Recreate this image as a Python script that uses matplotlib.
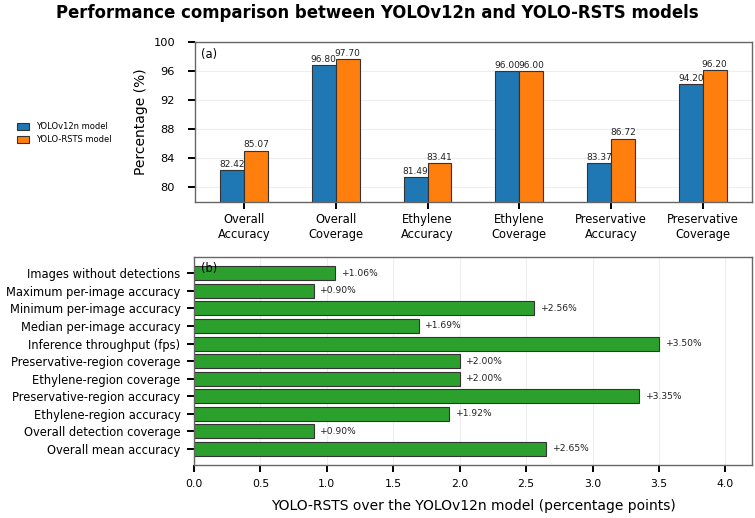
import numpy as np
import matplotlib.pyplot as plt

# panel (a) data
metrics = ['Overall\nAccuracy', 'Overall\nCoverage', 'Ethylene\nAccuracy',
           'Ethylene\nCoverage', 'Preservative\nAccuracy', 'Preservative\nCoverage']
yolov12n = [82.42, 96.80, 81.49, 96.00, 83.37, 94.20]
yolo_rsts = [85.07, 97.70, 83.41, 96.00, 86.72, 96.20]

# panel (b) data
gain_labels = ['Overall mean accuracy', 'Overall detection coverage',
               'Ethylene-region accuracy', 'Preservative-region accuracy',
               'Ethylene-region coverage', 'Preservative-region coverage',
               'Inference throughput (fps)', 'Median per-image accuracy',
               'Minimum per-image accuracy', 'Maximum per-image accuracy',
               'Images without detections']
gains = [2.65, 0.90, 1.92, 3.35, 2.00, 2.00, 3.50, 1.69, 2.56, 0.90, 1.06]

spine_col = '#666666'


def style_ax(ax, grid_axis):
    for s in ['top', 'left', 'bottom', 'right']:
        ax.spines[s].set_color(spine_col)
        ax.spines[s].set_linewidth(1.0)
    ax.tick_params(axis='both', length=5.2, width=1.4, color='black', pad=4.5)
    ax.grid(True, axis=grid_axis, color='#eeeeee', linewidth=0.8)
    ax.set_axisbelow(True)


fig = plt.figure(figsize=(7.55, 5.18), dpi=100)
ax1 = fig.add_axes([0.258, 0.610, 0.738, 0.309])
ax2 = fig.add_axes([0.257, 0.102, 0.739, 0.402])

# (a) grouped bars
x = np.arange(len(metrics))
w = 0.26
b1 = ax1.bar(x - w / 2, yolov12n, w, color='#1f77b4', edgecolor='#333333',
             linewidth=0.8, label='YOLOv12n model')
b2 = ax1.bar(x + w / 2, yolo_rsts, w, color='#ff7f0e', edgecolor='#333333',
             linewidth=0.8, label='YOLO-RSTS model')
for bars in (b1, b2):
    for r in bars:
        ax1.text(r.get_x() + r.get_width() / 2, r.get_height() + 0.15,
                 '%.2f' % r.get_height(), ha='center', va='bottom', fontsize=6.5,
                 color='#222222')
ax1.set_ylim(78, 100)
ax1.set_yticks([80, 84, 88, 92, 96, 100])
ax1.set_xticks(x)
ax1.set_xticklabels(metrics, fontsize=8.3)
style_ax(ax1, 'y')
ax1.tick_params(axis='y', labelsize=8.2, pad=9)
ax1.tick_params(axis='x', pad=3)
ax1.set_ylabel('Percentage (%)', fontsize=10, labelpad=4)
ax1.text(0.012, 0.96, '(a)', transform=ax1.transAxes, va='top', ha='left', fontsize=8.3)

fig.legend(handles=[b1, b2], loc='center left', bbox_to_anchor=(0.012, 0.743),
           frameon=False, fontsize=6, handlelength=1.5, handleheight=0.9)

# (b) horizontal bars
y = np.arange(len(gain_labels))
hb = ax2.barh(y, gains, 0.8, color='#2ca02c', edgecolor='#333333', linewidth=0.8)
for r in hb:
    v = r.get_width()
    ax2.text(v + 0.05, r.get_y() + r.get_height() / 2, '+%.2f%%' % v,
             ha='left', va='center', fontsize=6.6, color='#222222')
ax2.set_xlim(0, 4.2)
ax2.set_xticks([0.0, 0.5, 1.0, 1.5, 2.0, 2.5, 3.0, 3.5, 4.0])
ax2.set_yticks(y)
ax2.set_yticklabels(gain_labels, fontsize=8.3)
style_ax(ax2, 'x')
ax2.tick_params(axis='x', labelsize=7.8, pad=5)
ax2.set_xlabel('YOLO-RSTS over the YOLOv12n model (percentage points)', fontsize=10,
               labelpad=7)
ax2.text(0.012, 0.975, '(b)', transform=ax2.transAxes, va='top', ha='left', fontsize=8.3)

fig.suptitle('Performance comparison between YOLOv12n and YOLO-RSTS models',
             fontsize=11.9, fontweight='bold', y=0.993)

plt.savefig('out.png', dpi=100)
